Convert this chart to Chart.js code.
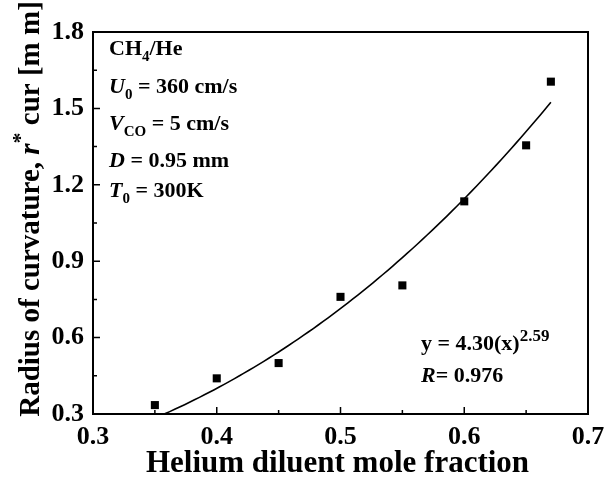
<!DOCTYPE html>
<html>
<head>
<meta charset="utf-8">
<script src="https://cdn.jsdelivr.net/npm/chart.js@4/dist/chart.umd.min.js"></script>
<style>
  html, body { margin: 0; padding: 0; background: #fff; }
  #curvChart { display: block; }
</style>
</head>
<body>
<canvas id="curvChart" width="606" height="478"></canvas>
<script>
// measured radius of curvature vs helium dilution
const heliumFraction = [0.35, 0.40, 0.45, 0.50, 0.55, 0.60, 0.65, 0.67];
const radiusCurvature = [0.335, 0.44, 0.50, 0.76, 0.805, 1.135, 1.355, 1.605];

// axis ticks
const xTickValues = [0.3, 0.4, 0.5, 0.6, 0.7];
const yTickValues = [0.3, 0.6, 0.9, 1.2, 1.5, 1.8];

// power-law fit: y = A * x^B
const fitA = 4.30;
const fitB = 2.59;
const fitR = 0.976;
const fitRange = [0.35, 0.67];

const SERIF = '"Liberation Serif", "Times New Roman", serif';

// sample the fit curve over the data range
const fitPoints = [];
for (let x = fitRange[0]; x <= fitRange[1] + 1e-9; x += 0.004) {
    fitPoints.push({ x: x, y: fitA * Math.pow(x, fitB) });
}

const scatterPoints = heliumFraction.map((x, i) => ({ x: x, y: radiusCurvature[i] }));

function runFont(r, size) {
    let fs = size;
    if (r.sub) fs = Math.round(size * 0.68);
    if (r.sup) fs = Math.round(size * 0.76);
    return (r.italic ? 'italic ' : '') + 'bold ' + fs + 'px ' + SERIF;
}

// draw a run of text pieces (italic / sub / sup) starting at x, baseline y
function drawRuns(ctx, runs, x, y, size) {
    ctx.textBaseline = 'alphabetic';
    ctx.textAlign = 'left';
    runs.forEach(r => {
        let dy = 0;
        if (r.sub) dy = size * 0.28;
        if (r.sup) dy = -size * 0.42;
        ctx.font = runFont(r, size);
        ctx.fillText(r.t, x, y + dy);
        x += ctx.measureText(r.t).width;
    });
    return x;
}

function runsWidth(ctx, runs, size) {
    let w = 0;
    runs.forEach(r => {
        ctx.font = runFont(r, size);
        w += ctx.measureText(r.t).width;
    });
    return w;
}

const framePlugin = {
    id: 'frame',
    afterDraw(chart) {
        const ctx = chart.ctx;
        const a = chart.chartArea;
        const xs = chart.scales.x;
        const ys = chart.scales.y;
        ctx.save();
        ctx.fillStyle = '#000';
        ctx.strokeStyle = '#000';

        // inward tick marks, majors plus half-step minors
        ctx.lineWidth = 1.5;
        ctx.beginPath();
        xTickValues.forEach((v, i) => {
            const px = xs.getPixelForValue(v);
            ctx.moveTo(px, a.bottom); ctx.lineTo(px, a.bottom - 7);
            if (i < xTickValues.length - 1) {
                const mx = xs.getPixelForValue((v + xTickValues[i + 1]) / 2);
                ctx.moveTo(mx, a.bottom); ctx.lineTo(mx, a.bottom - 4);
            }
        });
        yTickValues.forEach((v, i) => {
            const py = ys.getPixelForValue(v);
            ctx.moveTo(a.left, py); ctx.lineTo(a.left + 7, py);
            if (i < yTickValues.length - 1) {
                const my = ys.getPixelForValue((v + yTickValues[i + 1]) / 2);
                ctx.moveTo(a.left, my); ctx.lineTo(a.left + 4, my);
            }
        });
        ctx.stroke();

        // box frame
        ctx.lineWidth = 2;
        ctx.strokeRect(a.left, a.top, a.right - a.left, a.bottom - a.top);

        // conditions block
        const info = [
            [{ t: 'CH' }, { t: '4', sub: true }, { t: '/He' }],
            [{ t: 'U', italic: true }, { t: '0', sub: true }, { t: ' = 360 cm/s' }],
            [{ t: 'V', italic: true }, { t: 'CO', sub: true }, { t: ' = 5 cm/s' }],
            [{ t: 'D', italic: true }, { t: ' = 0.95 mm' }],
            [{ t: 'T', italic: true }, { t: '0', sub: true }, { t: ' = 300K' }]
        ];
        const infoBase = [55, 93, 130, 167, 197];
        info.forEach((runs, i) => drawRuns(ctx, runs, a.left + 16, infoBase[i], 22));

        // fit equation
        drawRuns(ctx, [
            { t: 'y = ' + fitA.toFixed(2) + '(x)' },
            { t: fitB.toFixed(2), sup: true }
        ], 421, 350, 22);
        drawRuns(ctx, [{ t: 'R', italic: true }, { t: '= ' + fitR.toFixed(3) }], 421, 382, 22);

        // x axis title
        ctx.font = 'bold 31px ' + SERIF;
        ctx.textAlign = 'center';
        ctx.textBaseline = 'alphabetic';
        ctx.fillText('Helium diluent mole fraction', (a.left + a.right) / 2 - 3, 472);

        // y axis title, rotated
        const yRuns = [
            { t: 'Radius of curvature, ' },
            { t: 'r', italic: true },
            { t: '*', sup: true },
            { t: ' cur [m m]' }
        ];
        const w = runsWidth(ctx, yRuns, 29);
        ctx.translate(39, 209);
        ctx.rotate(-Math.PI / 2);
        drawRuns(ctx, yRuns, -w / 2, 0, 29);

        ctx.restore();
    }
};

const ctx = document.getElementById('curvChart').getContext('2d');
new Chart(ctx, {
    type: 'scatter',
    data: {
        datasets: [
            {
                label: 'Fit',
                data: fitPoints,
                showLine: true,
                borderColor: '#000',
                borderWidth: 1.6,
                pointRadius: 0,
                tension: 0
            },
            {
                label: 'Measured',
                data: scatterPoints,
                pointStyle: 'rect',
                pointRadius: 5.7,
                backgroundColor: '#000',
                borderColor: '#000',
                borderWidth: 0
            }
        ]
    },
    options: {
        responsive: false,
        animation: false,
        layout: { padding: { left: 0, right: 18, top: 32, bottom: 0 } },
        plugins: {
            legend: { display: false },
            tooltip: { enabled: false }
        },
        scales: {
            x: {
                type: 'linear',
                min: 0.3,
                max: 0.7,
                afterBuildTicks: s => { s.ticks = xTickValues.map(v => ({ value: v })); },
                afterFit: s => { s.height = 64; s.paddingLeft = 0; s.paddingRight = 0; },
                ticks: {
                    callback: v => v.toFixed(1),
                    color: '#000',
                    padding: 8,
                    font: { family: SERIF, size: 26, weight: 'bold' }
                },
                grid: { display: false, drawTicks: false },
                border: { display: false }
            },
            y: {
                type: 'linear',
                min: 0.3,
                max: 1.8,
                afterBuildTicks: s => { s.ticks = yTickValues.map(v => ({ value: v })); },
                afterFit: s => { s.width = 93; s.paddingTop = 0; s.paddingBottom = 0; },
                ticks: {
                    callback: v => v.toFixed(1),
                    color: '#000',
                    padding: 9,
                    font: { family: SERIF, size: 26, weight: 'bold' }
                },
                grid: { display: false, drawTicks: false },
                border: { display: false }
            }
        }
    },
    plugins: [framePlugin]
});
</script>
</body>
</html>
